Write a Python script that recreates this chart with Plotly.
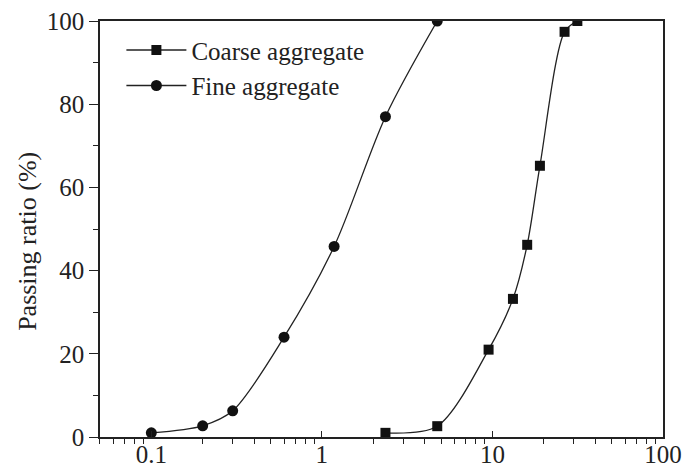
import plotly.graph_objects as go

# Sieve sizes (mm) and cumulative passing ratio (%)
fine_size = [0.1, 0.2, 0.3, 0.6, 1.18, 2.36, 4.75]
fine_pass = [1.0, 2.7, 6.3, 24.0, 45.8, 77.0, 100.0]

coarse_size = [2.36, 4.75, 9.5, 13.2, 16.0, 19.0, 26.5, 31.5]
coarse_pass = [1.0, 2.6, 21.0, 33.2, 46.2, 65.2, 97.4, 100.0]

x_tickvals = [0.1, 1, 10, 100]
x_ticktext = ["0.1", "1", "10", "100"]
# log-scale minor tick positions (2..9 within each decade)
x_minorvals = [m * d for d in (0.01, 0.1, 1, 10) for m in range(2, 10) if 0.05 <= m * d <= 100]
y_tickvals = [0, 20, 40, 60, 80, 100]

FONT = "Liberation Serif"
INK = "#222222"
FS = 25

fig = go.Figure()
fig.add_trace(go.Scatter(
    x=coarse_size, y=coarse_pass, name="Coarse aggregate", xaxis="x",
    mode="lines+markers", line=dict(color=INK, width=1.3, shape="spline", smoothing=0.85),
    marker=dict(symbol="square", size=10, color="#111111"),
))
fig.add_trace(go.Scatter(
    x=fine_size, y=fine_pass, name="Fine aggregate", xaxis="x2",
    mode="lines+markers", line=dict(color=INK, width=1.3, shape="spline", smoothing=0.85),
    marker=dict(symbol="circle", size=11, color="#111111"),
))

xrange = [-1.301, 2.0005]

fig.update_layout(
    width=683, height=468,
    margin=dict(l=100, r=20, t=21, b=31),
    paper_bgcolor="white", plot_bgcolor="white",
    font=dict(family=FONT, size=FS, color=INK),
    showlegend=True,
    legend=dict(x=0.038, y=0.985, xanchor="left", yanchor="top", itemwidth=60,
                bgcolor="rgba(0,0,0,0)", font=dict(family=FONT, size=FS, color=INK),
                tracegroupgap=0),
    # minor ticks, pointing outward, unlabeled; carries the frame
    xaxis=dict(
        type="log", range=xrange, automargin=False,
        tickvals=x_minorvals, showticklabels=False,
        ticks="outside", ticklen=5, tickwidth=1.2, tickcolor=INK,
        showline=True, linecolor=INK, linewidth=1.5, mirror=True,
        showgrid=False, zeroline=False,
    ),
    # decade ticks, pointing inward, labeled
    xaxis2=dict(
        type="log", range=xrange, overlaying="x", matches="x", anchor="y", side="bottom",
        automargin=False,
        tickvals=x_tickvals, ticktext=x_ticktext,
        ticks="inside", ticklen=6, tickwidth=1.3, tickcolor=INK,
        showline=False, showgrid=False, zeroline=False,
        ticklabeloverflow="allow",
        tickfont=dict(family=FONT, size=FS, color=INK),
    ),
    yaxis=dict(
        range=[0, 100], tickvals=y_tickvals, automargin=False,
        ticks="outside", ticklen=9, tickwidth=1.3, tickcolor=INK,
        minor=dict(dtick=10, ticks="outside", ticklen=5, tickwidth=1.2, tickcolor=INK, showgrid=False),
        showline=True, linecolor=INK, linewidth=1.5, mirror=True,
        showgrid=False, zeroline=False,
        tickfont=dict(family=FONT, size=FS, color=INK),
    ),
    annotations=[dict(
        text="Passing ratio (%)", textangle=-90, showarrow=False,
        xref="paper", yref="paper", x=-0.13, y=0.471, xanchor="center", yanchor="middle",
        font=dict(family=FONT, size=FS + 1, color=INK),
    )],
)

fig.write_html("out.html")
